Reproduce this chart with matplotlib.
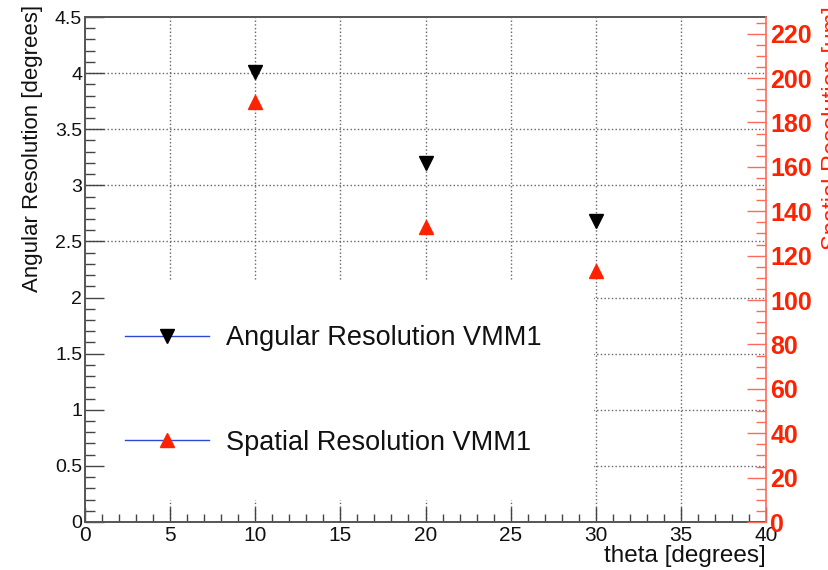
import matplotlib
matplotlib.use("Agg")
import matplotlib.pyplot as plt
from matplotlib.lines import Line2D
from matplotlib.patches import Rectangle
from matplotlib.ticker import MultipleLocator, FormatStrFormatter

# Data
theta = [10, 20, 30]
ang_res = [4.01, 3.20, 2.68]        # degrees
spat_res = [189, 133, 113]          # micrometres
x_major = [5, 10, 15, 20, 25, 30, 35]
y_major = [0.5, 1.0, 1.5, 2.0, 2.5, 3.0, 3.5, 4.0]
labels = ["Angular Resolution VMM1", "Spatial Resolution VMM1"]

RED = "#ff2200"
plt.rcParams["font.family"] = ["Liberation Sans", "DejaVu Sans"]

W, H = 829, 570
fig = plt.figure(figsize=(W / 100, H / 100), dpi=100)
L, R, T, B = 85, 766, 17, 522
ax = fig.add_axes([L / W, 1 - B / H, (R - L) / W, (B - T) / H])
ax.set_xlim(0, 40)
ax.set_ylim(0, 4.5)

# dotted grid, drawn by hand so the legend box can hide part of it
for v in x_major:
    ax.axvline(v, color="#666666", ls=":", lw=1.0, zorder=0.5)
for v in y_major:
    ax.axhline(v, color="#666666", ls=":", lw=1.0, zorder=0.5)

# white legend area (covers the grid)
ax.add_patch(Rectangle((0.0015, 0.043), 0.7465, 0.436, transform=ax.transAxes,
                       facecolor="white", edgecolor="none", zorder=1))

ax.plot(theta, ang_res, ls="none", marker="v", ms=9.5, color="black", zorder=3)

ax.xaxis.set_minor_locator(MultipleLocator(1))
ax.yaxis.set_minor_locator(MultipleLocator(0.1))
ax.xaxis.set_major_locator(MultipleLocator(5))
ax.yaxis.set_major_locator(MultipleLocator(0.5))
ax.yaxis.set_major_formatter(FormatStrFormatter("%g"))
ax.tick_params(axis="x", which="major", direction="in", length=11, width=1,
               color="#444444", labelsize=15, pad=3, labelcolor="#111111", top=False)
ax.tick_params(axis="x", which="minor", direction="in", length=5.5, width=1,
               color="#444444", top=False)
ax.tick_params(axis="y", which="major", direction="in", length=14, width=1,
               color="#444444", labelsize=14, pad=2, labelcolor="#111111", right=False)
ax.tick_params(axis="y", which="minor", direction="in", length=7, width=1,
               color="#444444", right=False)
for s in ["left", "bottom", "top"]:
    ax.spines[s].set_color("#555555")
    ax.spines[s].set_linewidth(1.4)
ax.spines["right"].set_visible(False)

# right axis for the spatial resolution
ax2 = ax.twinx()
ax2.set_ylim(0, 227.5)
ax2.plot(theta, spat_res, ls="none", marker="^", ms=9.5, color=RED, zorder=3)
ax2.yaxis.set_major_locator(MultipleLocator(20))
ax2.yaxis.set_minor_locator(MultipleLocator(5))
ax2.tick_params(axis="y", which="major", direction="in", length=14, width=1,
                color="#ff6a5a", labelsize=18, pad=3, labelcolor=RED)
ax2.tick_params(axis="y", which="minor", direction="in", length=7, width=1,
                color="#ff6a5a")
for lab in ax2.get_yticklabels():
    lab.set_fontweight("bold")
for s in ["left", "bottom", "top"]:
    ax2.spines[s].set_visible(False)
ax2.spines["right"].set_color("#ff6a5a")
ax2.spines["right"].set_linewidth(1.2)

# legend
handles = [
    Line2D([], [], color="#3048d0", lw=1, marker="v", ms=9.5,
           markerfacecolor="black", markeredgecolor="black"),
    Line2D([], [], color="#3048d0", lw=1, marker="^", ms=9.5,
           markerfacecolor=RED, markeredgecolor=RED),
]
leg = fig.legend(handles, labels, loc="upper left",
                 bbox_to_anchor=(125 / W, 1 - 325 / H), bbox_transform=fig.transFigure,
                 frameon=False, fontsize=19.5, numpoints=1, borderpad=0,
                 borderaxespad=0, handlelength=3.1, handletextpad=0.62,
                 labelspacing=2.9)
for t in leg.get_texts():
    t.set_color("#111111")
leg.set_zorder(5)

# axis titles
fig.text(R / W, 1 - 556 / H, "theta [degrees]", ha="right", va="center",
         fontsize=17.5, color="#111111")
fig.text(33 / W, 1 - 5 / H, "Angular Resolution [degrees]", rotation=90,
         ha="center", va="top", fontsize=16, color="#111111")
fig.text(822 / W, 1 - 6 / H, "Spatial Resolution [\u03bcm]", rotation=90,
         ha="left", va="top", fontsize=17, color=RED)

fig.savefig("out.png", dpi=100)
